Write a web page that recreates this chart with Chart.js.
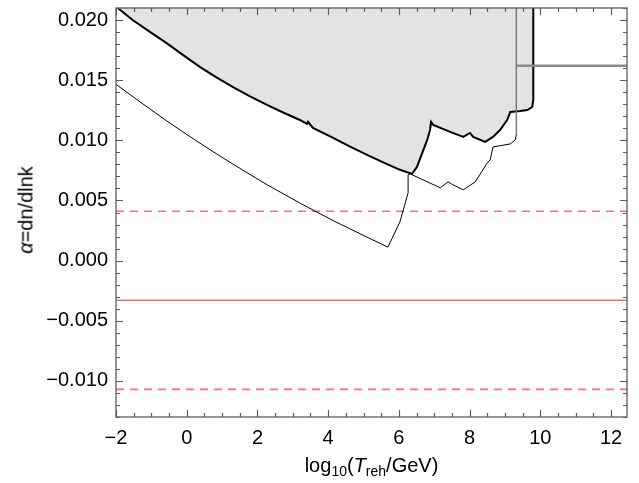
<!DOCTYPE html>
<html>
<head>
<meta charset="utf-8">
<script src="https://cdn.jsdelivr.net/npm/chart.js@4/dist/chart.umd.min.js"></script>
<style>
  body { margin: 0; background: #fff; }
  #wrap { position: relative; width: 639px; height: 483px; font-family: "Liberation Sans", Arial, sans-serif; }
  #xTitle { position: absolute; left: 116px; width: 511px; top: 454px; text-align: center; font-size: 20px; color: #000; }
  #xTitle sub { font-size: 14px; vertical-align: -4px; line-height: 0; }
  #yTitle { position: absolute; left: 26px; top: 210px; transform: translate(-50%, -50%) rotate(-90deg); font-size: 20px; color: #000; white-space: nowrap; }
</style>
</head>
<body>
<div id="wrap">
  <canvas id="chart" width="639" height="483"></canvas>
  <div id="xTitle">log<sub>10</sub>(<i>T</i><sub>reh</sub>/GeV)</div>
  <div id="yTitle"><i>α</i>=dn/dlnk</div>
</div>
<script>
// ---- data ----
const xMin = -2, xMax = 12.45;
const yMin = -0.013, yMax = 0.021;
const xTickValues = [-2, 0, 2, 4, 6, 8, 10, 12];
const yTickValues = [-0.010, -0.005, 0.000, 0.005, 0.010, 0.015, 0.020];

// excluded region boundary (thick line, shaded above)
const boundX = [-1.95, -1.52, -1.04, -0.56, -0.09, 0.38, 0.84, 1.31, 1.79, 2.27, 2.74, 3.2, 3.4, 3.43, 3.57, 4.14, 4.62, 5.1, 5.57, 6.03, 6.37, 6.51, 6.8, 6.88, 6.91, 6.97, 7.45, 7.82, 8.01, 8.1, 8.44, 8.66, 8.86, 9.06, 9.15, 9.43, 9.63, 9.77, 9.8, 9.8];
const boundY = [0.021, 0.01998, 0.01901, 0.01806, 0.01706, 0.01609, 0.01523, 0.01443, 0.01366, 0.01294, 0.01229, 0.01169, 0.01136, 0.01153, 0.01103, 0.0102, 0.00947, 0.00879, 0.00814, 0.00755, 0.00721, 0.00779, 0.01003, 0.01086, 0.01153, 0.01128, 0.0107, 0.01028, 0.01061, 0.01028, 0.00987, 0.01028, 0.01086, 0.01169, 0.01236, 0.01244, 0.01252, 0.01277, 0.01335, 0.021];

// thin curve
const thinX = [-2, -1.26, -0.56, 0.15, 0.86, 1.57, 2.27, 3.21, 4.11, 5.1, 5.69, 6.03, 6.23, 6.26, 6.26, 6.32, 7.17, 7.39, 7.53, 7.82, 8.16, 8.5, 8.58, 8.66, 9.15, 9.29, 9.32];
const thinY = [0.01465, 0.01307, 0.0116, 0.01019, 0.00884, 0.00755, 0.00631, 0.00477, 0.00337, 0.00195, 0.00112, 0.00323, 0.00531, 0.00564, 0.00713, 0.00721, 0.00605, 0.00655, 0.0063, 0.00589, 0.00655, 0.00813, 0.00837, 0.00945, 0.0097, 0.01003, 0.01045];

// gray lines
const grayVertX = [9.32, 9.32];
const grayVertY = [0.01045, 0.021];
const grayHorX = [9.32, 12.5];
const grayHorY = [0.0162, 0.0162];

// Planck running: central value and band edges
const alphaCentral = -0.0033;
const alphaUpper = 0.0041;
const alphaLower = -0.0107;
const bandX = [-2, 12.5];

function zip(xs, ys) {
  return xs.map((x, i) => ({ x: x, y: ys[i] }));
}
function fmt(v, digits) {
  return v.toFixed(digits).replace("-", "\u2212");
}

// frame + inward ticks on all four sides
const framePlugin = {
  id: "frame",
  afterDatasetsDraw(chart) {
    const { ctx, chartArea: a, scales } = chart;
    const xs = scales.x, ys = scales.y;
    ctx.save();
    ctx.strokeStyle = "#5c5c5c";
    ctx.lineWidth = 1.3;
    ctx.strokeRect(a.left, a.top, a.right - a.left, a.bottom - a.top);
    ctx.lineWidth = 1.2;
    ctx.beginPath();
    for (let i = -4; i <= 25; i++) {
      const v = i * 0.5;
      if (v < xMin || v > xMax) continue;
      const len = (i % 4 === 0) ? 7 : 4;
      const px = Math.round(xs.getPixelForValue(v)) + 0.5;
      ctx.moveTo(px, a.bottom); ctx.lineTo(px, a.bottom - len);
      ctx.moveTo(px, a.top); ctx.lineTo(px, a.top + len);
    }
    for (let i = -13; i <= 21; i++) {
      const v = i * 0.001;
      const len = (i % 5 === 0) ? 7 : 4;
      const py = Math.round(ys.getPixelForValue(v)) + 0.5;
      ctx.moveTo(a.left, py); ctx.lineTo(a.left + len, py);
      ctx.moveTo(a.right, py); ctx.lineTo(a.right - len, py);
    }
    ctx.stroke();
    ctx.restore();
  }
};

const ctx = document.getElementById("chart").getContext("2d");
new Chart(ctx, {
  type: "line",
  data: {
    datasets: [
      {
        data: zip(boundX, boundY),
        borderColor: "#000",
        borderWidth: 2,
        backgroundColor: "#e3e3e3",
        fill: "end",
        pointRadius: 0,
        tension: 0,
        order: 10
      },
      {
        data: zip(thinX, thinY),
        borderColor: "#000",
        borderWidth: 1,
        fill: false,
        pointRadius: 0,
        tension: 0
      },
      {
        data: zip(grayVertX, grayVertY),
        borderColor: "#7a7a7a",
        borderWidth: 1.5,
        pointRadius: 0
      },
      {
        data: zip(grayHorX, grayHorY),
        borderColor: "#8a8a8a",
        borderWidth: 2.5,
        pointRadius: 0
      },
      {
        data: zip(bandX, [alphaCentral, alphaCentral]),
        borderColor: "#ff6e6e",
        borderWidth: 1.6,
        pointRadius: 0
      },
      {
        data: zip(bandX, [alphaUpper, alphaUpper]),
        borderColor: "#ff6e6e",
        borderWidth: 1.6,
        borderDash: [8, 6],
        pointRadius: 0
      },
      {
        data: zip(bandX, [alphaLower, alphaLower]),
        borderColor: "#ff6e6e",
        borderWidth: 1.6,
        borderDash: [8, 6],
        pointRadius: 0
      }
    ]
  },
  options: {
    responsive: false,
    animation: false,
    devicePixelRatio: 1,
    layout: { padding: { top: 8, right: 12, left: 0, bottom: 0 } },
    plugins: {
      legend: { display: false },
      tooltip: { enabled: false }
    },
    scales: {
      x: {
        type: "linear",
        min: xMin,
        max: xMax,
        grid: { display: false, drawTicks: false },
        border: { display: false },
        afterBuildTicks: (scale) => { scale.ticks = xTickValues.map(v => ({ value: v })); },
        afterFit: (scale) => {
          scale.height = 66;
          scale.paddingLeft = 0;
          scale.paddingRight = 0;
        },
        ticks: {
          color: "#000",
          padding: 9,
          maxRotation: 0,
          autoSkip: false,
          font: { family: "'Liberation Sans', Arial, sans-serif", size: 20 },
          callback: (v) => fmt(v, 0)
        }
      },
      y: {
        type: "linear",
        min: yMin,
        max: yMax,
        grid: { display: false, drawTicks: false },
        border: { display: false },
        afterBuildTicks: (scale) => { scale.ticks = yTickValues.map(v => ({ value: v })); },
        afterFit: (scale) => {
          scale.width = 116;
          scale.paddingTop = 0;
          scale.paddingBottom = 0;
        },
        ticks: {
          color: "#000",
          padding: 8,
          autoSkip: false,
          font: { family: "'Liberation Sans', Arial, sans-serif", size: 20 },
          callback: (v) => fmt(v, 3)
        }
      }
    }
  },
  plugins: [framePlugin]
});
</script>
</body>
</html>
